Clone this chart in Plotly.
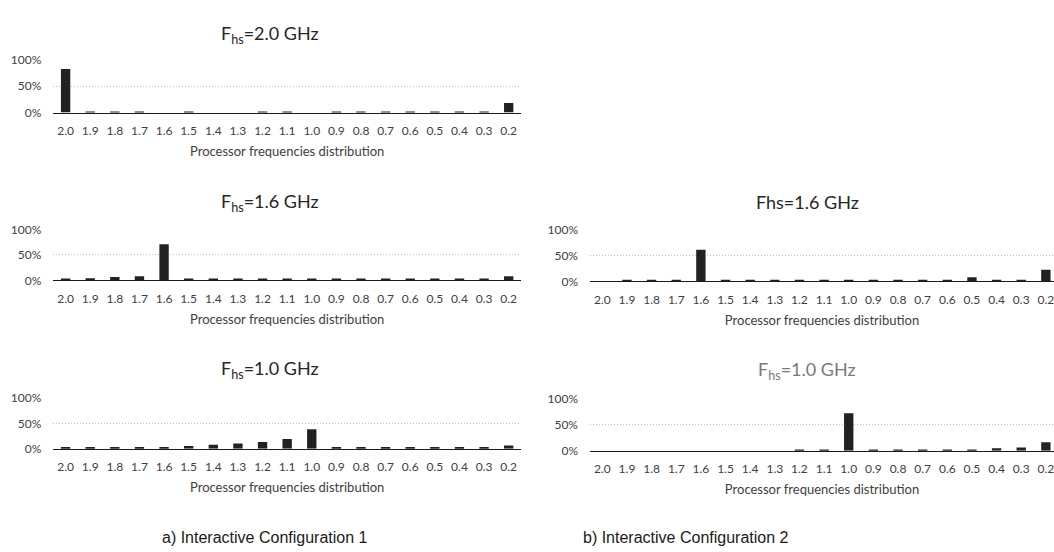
import plotly.graph_objects as go

# ---------------- data ----------------
freqs = ["2.0", "1.9", "1.8", "1.7", "1.6", "1.5", "1.4", "1.3", "1.2", "1.1",
         "1.0", "0.9", "0.8", "0.7", "0.6", "0.5", "0.4", "0.3", "0.2"]

# a) Interactive Configuration 1 (percent of time)
cfg1_fhs20 = [82, 0.5, 0.5, 0.5, 0, 0.5, 0, 0, 0.5, 0.5,
              0, 0.5, 0.5, 0.5, 0.5, 0.5, 0.5, 0.5, 18]
cfg1_fhs16 = [3, 4, 6.5, 8, 71, 2, 2, 2, 2, 2,
              2, 2, 2, 2, 2, 2, 2, 3, 8]
cfg1_fhs10 = [2, 2, 2, 2, 3.5, 5.5, 8, 10.5, 13, 19,
              38.5, 2, 2, 2, 2, 2, 2, 2, 6.5]

# b) Interactive Configuration 2
cfg2_fhs16 = [0, 2, 2, 2, 61.5, 2, 2, 2, 2, 2,
              2, 2, 2, 2, 2, 8, 3, 2, 22.5]
cfg2_fhs10 = [0, 0, 0, 0, 0, 0, 0, 0, 2, 2,
              72, 2, 2, 2, 2, 2, 4.5, 6, 16]

panel_titles = ["F<sub>hs</sub>=2.0 GHz", "F<sub>hs</sub>=1.6 GHz", "F<sub>hs</sub>=1.0 GHz",
                "Fhs=1.6 GHz", "F<sub>hs</sub>=1.0 GHz"]
x_title = "Processor frequencies distribution"
captions = ["a) Interactive Configuration 1", "b) Interactive Configuration 2"]
y_ticks = [0, 0.5, 1.0]

# ---------------- layout helpers ----------------
W, H = 1054, 552
FONT = "Lato, Carlito, Calibri, 'Open Sans', sans-serif"
TXT = "#404040"


def xd(a, b):
    return [a / W, min(b / W, 1.0)]


def yd(top, bottom):
    return [(H - bottom) / H, (H - top) / H]


series = [cfg1_fhs20, cfg1_fhs16, cfg1_fhs10, cfg2_fhs16, cfg2_fhs10]
# (x-left px, x-right px, y-top px (100%), y-bottom px (0%), x-range max, title x px, title y px, title color)
panels = [
    (53.3, 521, 53, 107.5, 18.5, 270, 27, "#262626"),
    (53.3, 521, 227.7, 280, 18.5, 270, 200, "#262626"),
    (53.3, 521, 401, 453, 18.5, 270, 372, "#262626"),
    (590, 1054, 228, 281, 18.33, 807, 199, "#262626"),
    (590, 1054, 401.5, 455, 18.33, 807, 373, "#7a7a7a"),
]

fig = go.Figure()
layout = dict(
    width=W, height=H,
    margin=dict(l=0, r=0, t=0, b=0),
    paper_bgcolor="white", plot_bgcolor="white",
    showlegend=False,
    font=dict(family=FONT, color=TXT, size=12),
)
annotations = []

for i, (vals, p) in enumerate(zip(series, panels)):
    xl, xr, yt, yb, xmax, tx, ty, tcol = p
    n = "" if i == 0 else str(i + 1)
    fig.add_trace(go.Bar(
        x=freqs, y=[v / 100 for v in vals],
        xaxis="x" + n, yaxis="y" + n,
        marker=dict(color="#222222", line=dict(width=0)),
        width=0.38,
        hoverinfo="x+y",
    ))
    layout["xaxis" + n] = dict(
        domain=xd(xl, xr), anchor="y" + n,
        type="category", categoryorder="array", categoryarray=freqs,
        range=[-0.5, xmax],
        showline=True, linecolor="#1a1a1a", linewidth=1.4,
        showgrid=False, zeroline=False,
        ticks="", ticklabelstandoff=7,
        tickfont=dict(size=12, color=TXT, family=FONT),
        title=dict(text=x_title, standoff=9, font=dict(size=13, color=TXT, family=FONT)),
        fixedrange=True,
    )
    layout["yaxis" + n] = dict(
        domain=yd(yt, yb), anchor="x" + n,
        range=[0, 1.0],
        tickvals=y_ticks, tickformat=".0%",
        showgrid=True, gridcolor="#bdbdbd", griddash="1px,2px", gridwidth=1,
        zeroline=False, showline=False,
        ticks="", ticklabelstandoff=11,
        tickfont=dict(size=12, color=TXT, family=FONT),
        fixedrange=True,
    )
    annotations.append(dict(
        text=panel_titles[i], x=tx / W, y=(H - ty) / H, xref="paper", yref="paper",
        xanchor="center", yanchor="middle", showarrow=False,
        font=dict(size=18, color=tcol, family=FONT),
    ))

for cx, txt in zip([265, 686], captions):
    annotations.append(dict(
        text=txt, x=cx / W, y=(H - 544) / H, xref="paper", yref="paper",
        xanchor="center", yanchor="middle", showarrow=False,
        font=dict(size=16, color="#1a1a1a",
                  family="'Liberation Sans Narrow', 'Arial Narrow', 'Liberation Sans', Arial, sans-serif"),
    ))

layout["annotations"] = annotations
fig.update_layout(**layout)
fig.write_html(
    "out.html",
    config={"displayModeBar": False},
    post_script="document.documentElement.style.margin='0';document.body.style.margin='0';"
                "document.body.style.padding='0';document.body.style.overflow='hidden';",
)
